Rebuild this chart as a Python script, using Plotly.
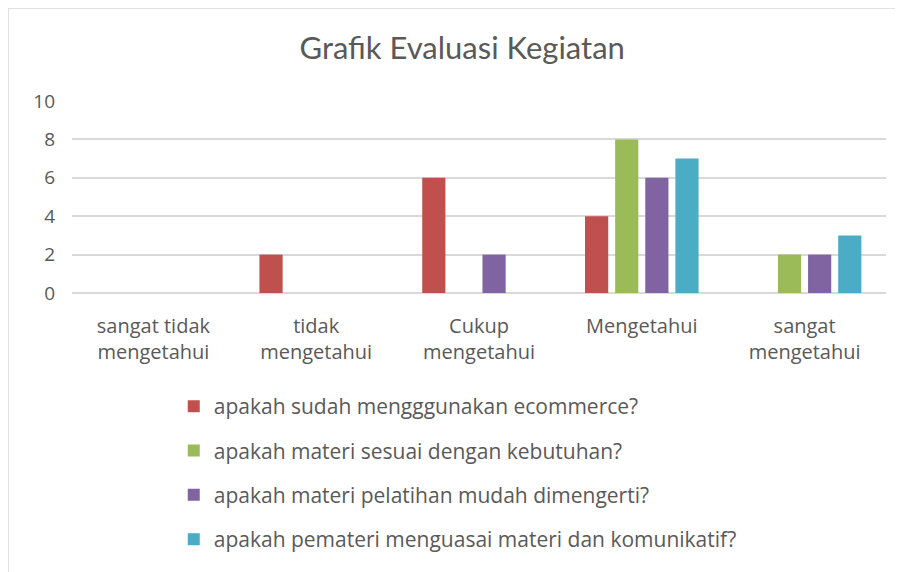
import plotly.graph_objects as go

categories = ["sangat tidak<br>mengetahui", "tidak<br>mengetahui", "Cukup<br>mengetahui", "Mengetahui", "sangat<br>mengetahui"]
series_names = [
    "apakah sudah mengggunakan ecommerce?",
    "apakah materi sesuai dengan kebutuhan?",
    "apakah materi pelatihan mudah dimengerti?",
    "apakah pemateri menguasai materi dan komunikatif?",
]
ecommerce = [0, 2, 6, 4, 0]
kebutuhan = [0, 0, 0, 8, 2]
mudah = [0, 0, 2, 6, 2]
pemateri = [0, 0, 0, 7, 3]
colors = ["#C0504D", "#9BBB59", "#8064A2", "#4BACC6"]

fig = go.Figure()
for i, (name, vals) in enumerate(zip(series_names, [ecommerce, kebutuhan, mudah, pemateri])):
    fig.add_trace(go.Bar(
        x=categories, y=vals, name=name, legendgroup=f"g{i}",
        marker=dict(color=colors[i], line=dict(width=0)),
    ))

txt = "#595959"
body = "Open Sans, Lato, sans-serif"
fig.update_layout(
    width=903, height=572,
    paper_bgcolor="white", plot_bgcolor="white",
    margin=dict(l=64, r=25, t=93, b=287, autoexpand=False),
    barmode="group", bargap=0.26, bargroupgap=0.23,
    font=dict(family=body, color=txt, size=20),
    title=dict(text="Grafik Evaluasi Kegiatan", x=0.503, xanchor="center",
               y=1 - 40 / 572, yanchor="middle",
               font=dict(size=31, color=txt, family="Lato, sans-serif")),
    showlegend=True,
    legend=dict(orientation="v", x=0.125, xanchor="left", y=-0.485, yanchor="top",
                font=dict(size=21, color=txt, family=body), tracegroupgap=14,
                itemwidth=30, bgcolor="rgba(0,0,0,0)"),
    shapes=[dict(type="rect", xref="paper", yref="paper",
                 x0=-0.0786, x1=1.2, y0=-2.0, y1=1.484,
                 line=dict(color="#D9D9D9", width=1.5), layer="below")],
)
fig.update_yaxes(range=[0, 10], dtick=2, showgrid=True, gridcolor="#D9D9D9", gridwidth=1.5,
                 zeroline=True, zerolinecolor="#D9D9D9", zerolinewidth=1.5,
                 showline=False, ticks="", ticklabelstandoff=16, automargin=False,
                 tickfont=dict(size=19, color=txt, family=body))
fig.update_xaxes(showgrid=False, showline=False, ticks="", tickfont=dict(size=20, color=txt, family=body),
                 ticklabelstandoff=19, automargin=False)

fig.write_html("out.html")
